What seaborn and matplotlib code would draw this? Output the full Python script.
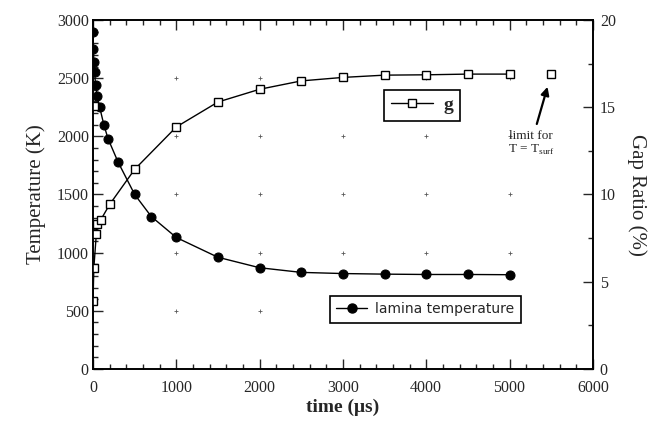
import numpy as np
import pandas as pd
import matplotlib
matplotlib.use("Agg")
import matplotlib.pyplot as plt
from matplotlib.ticker import MultipleLocator
from matplotlib.lines import Line2D
import seaborn as sns

# lamina temperature (K) vs time (us)
time_T = [0, 5, 10, 20, 30, 50, 80, 130, 180, 300, 500, 700, 1000,
          1500, 2000, 2500, 3000, 3500, 4000, 4500, 5000]
temp_K = [2900, 2750, 2640, 2550, 2440, 2350, 2250, 2100, 1980, 1780, 1500, 1310, 1130,
          960, 870, 830, 820, 815, 812, 812, 810]

# gap ratio g (%) vs time (us)
time_g = [0, 10, 40, 45, 90, 200, 500, 1000, 1500, 2000, 2500, 3000, 3500, 4000, 4500, 5000]
gap_pct = [3.87, 5.8, 7.75, 8.3, 8.52, 9.43, 11.44, 13.87, 15.3, 16.03, 16.51, 16.71,
           16.84, 16.86, 16.9, 16.9]

# unconnected squares: stray early point and the T = T_surf limit
extra_t = [10, 5500]
extra_g = [15.07, 16.9]

sns.set_style("ticks")
plt.rcParams['font.family'] = ['Liberation Serif', 'DejaVu Serif']

fig = plt.figure(figsize=(6.62, 4.26), dpi=100)
ax = fig.add_axes([0.1405, 0.134, 0.755, 0.819])
ax2 = ax.twinx()

df_T = pd.DataFrame({"time": time_T, "T": temp_K})
df_g = pd.DataFrame({"time": time_g, "g": gap_pct})

#grid marks at tick crossings
for xx in range(1000, 6000, 1000):
    for yy in range(500, 3000, 500):
        ax.plot(xx, yy, marker='+', ms=3, mew=0.6, color='0.35', zorder=1)

sns.lineplot(data=df_T, x="time", y="T", ax=ax, color="black", lw=1.0,
             marker="o", markersize=6.5, markeredgecolor="black", markerfacecolor="black")
sns.lineplot(data=df_g, x="time", y="g", ax=ax2, color="black", lw=1.0,
             marker="s", markersize=6, markeredgecolor="black", markerfacecolor="white",
             markeredgewidth=1.0)
ax2.plot(extra_t, extra_g, ls="none", marker="s", ms=6, mec="black", mfc="white", mew=1.0)

ax.set_xlim(0, 6000)
ax.set_ylim(0, 3000)
ax2.set_ylim(0, 20)

ax.xaxis.set_major_locator(MultipleLocator(1000))
ax.xaxis.set_minor_locator(MultipleLocator(200))
ax.yaxis.set_major_locator(MultipleLocator(500))
ax.yaxis.set_minor_locator(MultipleLocator(100))
ax2.yaxis.set_major_locator(MultipleLocator(5))
ax2.yaxis.set_minor_locator(MultipleLocator(2.5))

ax.tick_params(which="both", direction="in", top=True, labelsize=11.5, pad=3, width=1)
ax.tick_params(axis="x", which="both", pad=8)
ax.tick_params(which="major", length=7)
ax.tick_params(which="minor", length=3.5)
ax2.tick_params(which="both", direction="in", labelsize=11.5, pad=5, width=1)
ax2.tick_params(which="major", length=7)
ax2.tick_params(which="minor", length=3.5)

for a in (ax, ax2):
    for s in a.spines.values():
        s.set_linewidth(1.2)
        s.set_color("black")

ax.set_xlabel("time (\u03bcs)", fontsize=14, fontweight="bold", labelpad=2)
ax.set_ylabel("Temperature (K)", fontsize=15, labelpad=8)
ax2.set_ylabel("Gap Ratio (%)", fontsize=15, rotation=270, labelpad=22)

h_T = Line2D([], [], color="black", lw=1.0, marker="o", ms=6.5, mfc="black", mec="black")
h_g = Line2D([], [], color="black", lw=1.0, marker="s", ms=6, mfc="white", mec="black")

leg1 = ax.legend([h_T], ["lamina temperature"], loc="center", bbox_to_anchor=(0.665, 0.171),
                 frameon=True, fancybox=False, edgecolor="black", framealpha=1,
                 prop={"family": "DejaVu Sans", "size": 10}, handlelength=2.2,
                 borderpad=0.45, handletextpad=0.6)
leg1.get_frame().set_linewidth(1.2)
leg2 = ax2.legend([h_g], ["g"], loc="center", bbox_to_anchor=(0.658, 0.756),
                  frameon=True, fancybox=False, edgecolor="black", framealpha=1,
                  prop={"size": 14, "weight": "bold"}, handlelength=2.2,
                  borderpad=0.35, handletextpad=0.5)
leg2.get_frame().set_linewidth(1.2)

ax2.annotate("limit for\nT = T$_{\\mathregular{surf}}$", xy=(5470, 16.4), xytext=(5260, 13.7),
             ha="center", va="top", fontsize=9.5, linespacing=1.1,
             arrowprops=dict(arrowstyle="-|>", color="black", lw=1.6, mutation_scale=12,
                             shrinkA=2, shrinkB=3))

fig.savefig("out.png", dpi=100)
